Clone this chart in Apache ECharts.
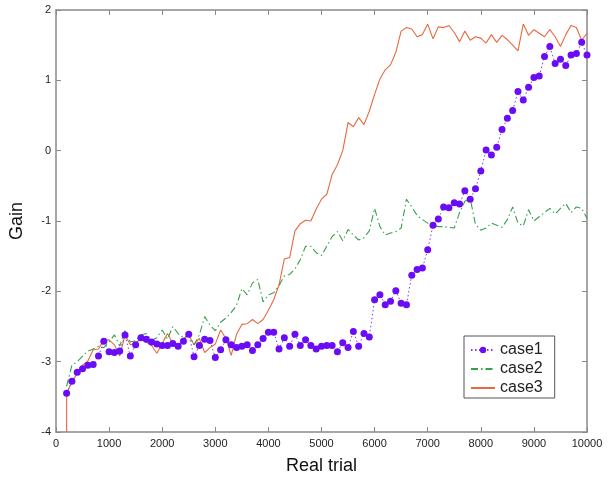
<!DOCTYPE html>
<html>
<head>
<meta charset="utf-8">
<script src="https://cdn.jsdelivr.net/npm/echarts@6/dist/echarts.min.js"></script>
<style>
  html, body { margin: 0; padding: 0; background: #fff; }
  #chart { width: 612px; height: 480px; }
</style>
</head>
<body>
<div id="chart"></div>
<script>
// Trials at which each run was evaluated (every 100 trials from 200 to 10000)
const trials = [];
for (let t = 200; t <= 10000; t += 100) trials.push(t);

const case1 = [
  -3.45, -3.28, -3.15, -3.10, -3.05, -3.04, -2.92, -2.71, -2.86, -2.87,
  -2.85, -2.62, -2.92, -2.76, -2.66, -2.68, -2.72, -2.75, -2.77, -2.77,
  -2.74, -2.78, -2.71, -2.61, -2.93, -2.77, -2.68, -2.70, -2.94, -2.83,
  -2.69, -2.76, -2.80, -2.78, -2.76, -2.84, -2.76, -2.67, -2.58, -2.58,
  -2.82, -2.66, -2.78, -2.61, -2.77, -2.69, -2.77, -2.82, -2.78, -2.77,
  -2.77, -2.86, -2.73, -2.80, -2.57, -2.78, -2.60, -2.65, -2.12, -2.05,
  -2.19, -2.14, -1.99, -2.17, -2.19, -1.77, -1.69, -1.67, -1.41, -1.06,
  -0.97, -0.80, -0.81, -0.74, -0.76, -0.57, -0.69, -0.54, -0.29, 0.01,
  -0.06, 0.05, 0.30, 0.46, 0.57, 0.84, 0.72, 0.90, 1.04, 1.06,
  1.34, 1.48, 1.24, 1.30, 1.21, 1.36, 1.38, 1.54, 1.36
];

const case2 = [
  -3.35, -3.05, -3.00, -2.92, -2.85, -2.82, -2.78, -2.80, -2.72, -2.62,
  -2.78, -2.56, -2.72, -2.70, -2.62, -2.60, -2.70, -2.66, -2.55, -2.68,
  -2.50, -2.60, -2.66, -2.62, -2.76, -2.62, -2.36, -2.48, -2.56, -2.44,
  -2.38, -2.30, -2.20, -1.96, -2.05, -1.88, -1.83, -2.15, -2.05, -2.02,
  -1.92, -1.78, -1.76, -1.68, -1.55, -1.36, -1.36, -1.45, -1.49, -1.36,
  -1.22, -1.15, -1.28, -1.12, -1.20, -1.27, -1.24, -1.14, -0.82, -1.08,
  -1.20, -1.17, -1.15, -1.10, -0.69, -0.80, -0.92, -0.98, -1.03, -1.06,
  -1.08, -1.08, -1.09, -1.10, -0.88, -0.72, -0.68, -1.05, -1.13, -1.10,
  -1.03, -1.06, -1.09, -0.98, -0.80, -1.03, -1.07, -0.84, -1.00, -0.94,
  -0.88, -0.82, -0.90, -0.82, -0.75, -0.88, -0.80, -0.82, -0.96
];

// case3 begins at the bottom of the scale before its first evaluation
const case3Start = -4;
const case3 = [
  -3.45, -3.29, -3.17, -3.05, -2.99, -2.83, -2.82, -2.69, -2.69, -2.76,
  -2.92, -2.62, -2.76, -2.74, -2.66, -2.72, -2.77, -2.88, -2.74, -2.60,
  -2.74, -2.79, -2.67, -2.62, -2.76, -2.67, -2.87, -2.80, -2.75, -2.55,
  -2.67, -2.91, -2.61, -2.47, -2.46, -2.40, -2.46, -2.40, -2.27, -2.12,
  -1.91, -1.54, -1.52, -1.14, -1.04, -0.99, -1.00, -0.83, -0.69, -0.62,
  -0.34, -0.20, 0.00, 0.40, 0.34, 0.47, 0.37, 0.56, 0.80, 1.02,
  1.15, 1.22, 1.40, 1.70, 1.75, 1.73, 1.62, 1.65, 1.80, 1.59,
  1.76, 1.75, 1.78, 1.68, 1.55, 1.70, 1.57, 1.62, 1.60, 1.53,
  1.65, 1.54, 1.64, 1.58, 1.50, 1.42, 1.80, 1.64, 1.72, 1.67,
  1.62, 1.72, 1.62, 1.48, 1.65, 1.78, 1.75, 1.57, 1.67
];

const xTicks = [0, 1000, 2000, 3000, 4000, 5000, 6000, 7000, 8000, 9000, 10000];
const yTicks = [-4, -3, -2, -1, 0, 1, 2];

const pairs = (xs, ys) => ys.map((v, i) => [xs[i], v]);

const FONT = 'Liberation Sans, Arial, sans-serif';
const frameColor = '#8a8a8a';
const labelColor = '#222';

const chart = echarts.init(document.getElementById('chart'), null, { renderer: 'canvas' });

const baseX = {
  type: 'value',
  min: xTicks[0],
  max: xTicks[xTicks.length - 1],
  interval: 1000,
  splitLine: { show: false },
  axisLine: { show: true, onZero: false, lineStyle: { color: frameColor, width: 1.5 } },
  axisTick: { show: true, inside: true, length: 5, lineStyle: { color: frameColor } }
};
const baseY = {
  type: 'value',
  min: yTicks[0],
  max: yTicks[yTicks.length - 1],
  interval: 1,
  splitLine: { show: false },
  axisLine: { show: true, onZero: false, lineStyle: { color: frameColor, width: 1.5 } },
  axisTick: { show: true, inside: true, length: 5, lineStyle: { color: frameColor } }
};

chart.setOption({
  animation: false,
  backgroundColor: '#fff',
  grid: { left: 51, right: 25, top: 10, bottom: 48, containLabel: false },
  xAxis: [
    Object.assign({}, baseX, {
      position: 'bottom',
      name: 'Real trial',
      nameLocation: 'middle',
      nameGap: 25,
      nameTextStyle: { fontFamily: FONT, fontSize: 18, color: '#111' },
      axisLabel: {
        fontFamily: FONT, fontSize: 11, color: labelColor, margin: 6,
        formatter: v => String(v)
      }
    }),
    Object.assign({}, baseX, { position: 'top', axisLabel: { show: false } })
  ],
  yAxis: [
    Object.assign({}, baseY, {
      position: 'left',
      name: 'Gain',
      nameLocation: 'middle',
      nameGap: 30,
      nameRotate: 90,
      nameTextStyle: { fontFamily: FONT, fontSize: 18, color: '#111' },
      axisLabel: { fontFamily: FONT, fontSize: 11, color: labelColor, margin: 5 }
    }),
    Object.assign({}, baseY, { position: 'right', axisLabel: { show: false } })
  ],
  legend: {
    orient: 'vertical',
    left: 464,
    top: 336,
    padding: [6, 12, 2, 6],
    itemGap: 3,
    itemWidth: 24,
    itemHeight: 8,
    borderColor: '#555',
    borderWidth: 1,
    backgroundColor: '#fff',
    textStyle: { fontFamily: FONT, fontSize: 16, color: '#222', lineHeight: 16 },
    data: [
      { name: 'case1' },
      { name: 'case2', itemStyle: { opacity: 0 } },
      { name: 'case3', itemStyle: { opacity: 0 } }
    ]
  },
  series: [
    {
      name: 'case3',
      type: 'line',
      data: [[trials[0], case3Start]].concat(pairs(trials, case3)),
      showSymbol: false,
      symbol: 'none',
      lineStyle: { color: '#e8693e', width: 1.1 },
      itemStyle: { color: '#e8693e' },
      z: 2
    },
    {
      name: 'case2',
      type: 'line',
      data: pairs(trials, case2),
      showSymbol: false,
      symbol: 'none',
      lineStyle: { color: '#35a04e', width: 1.1, type: [7, 3, 1.5, 3] },
      itemStyle: { color: '#35a04e' },
      z: 3
    },
    {
      name: 'case1',
      type: 'line',
      data: pairs(trials, case1),
      symbol: 'circle',
      symbolSize: 7,
      showSymbol: true,
      lineStyle: { color: '#7a3cf0', width: 1, type: [1.5, 2.5] },
      itemStyle: { color: '#6a0cf5' },
      z: 4
    }
  ]
});
</script>
</body>
</html>
